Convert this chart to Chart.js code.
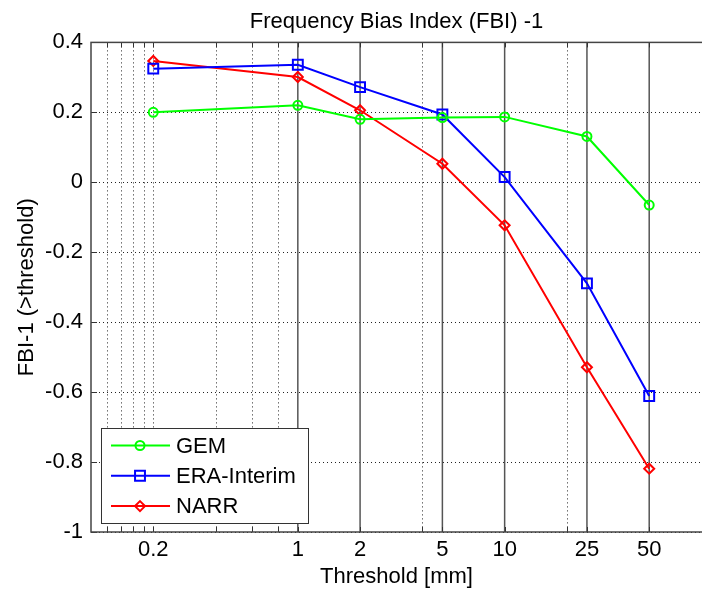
<!DOCTYPE html>
<html>
<head>
<meta charset="utf-8">
<script src="https://cdn.jsdelivr.net/npm/chart.js@4.4.1/dist/chart.umd.min.js"></script>
<style>
  html, body { margin: 0; padding: 0; background: #fff; overflow: hidden; }
</style>
</head>
<body>
<canvas id="fbiChart" width="702" height="592"></canvas>
<script>
const thresholds = [0.2, 1, 2, 5, 10, 25, 50];
const gemValues = [0.200, 0.220, 0.180, 0.185, 0.187, 0.131, -0.065];
const eraValues = [0.325, 0.336, 0.272, 0.194, 0.015, -0.289, -0.611];
const narrValues = [0.347, 0.301, 0.206, 0.053, -0.123, -0.529, -0.819];

const seriesNames = ["GEM", "ERA-Interim", "NARR"];
const xTickLabels = [0.2, 1, 2, 5, 10, 25, 50];
const xSolidLines = [1, 2, 5, 10, 25, 50];
const xDottedLines = [0.12, 0.14, 0.16, 0.18, 0.2, 0.4, 0.6, 0.8, 4, 20];
const yTickLabels = [0.4, 0.2, 0, -0.2, -0.4, -0.6, -0.8, -1];

const FONT = "'Liberation Sans', Arial, sans-serif";
const colors = ["#00ff00", "#0000ff", "#ff0000"];
const markers = ["circle", "rect", "rectRot"];
const markerSize = [4.5, 7, 5];

function toPoints(values) {
  return thresholds.map((t, i) => ({ x: t, y: values[i] }));
}

function seg(ctx, x1, y1, x2, y2) {
  ctx.beginPath();
  ctx.moveTo(x1, y1);
  ctx.lineTo(x2, y2);
  ctx.stroke();
}

// matlab style grid: dotted minor lines, solid lines at thresholds, inward ticks
const gridPlugin = {
  id: "matlabGrid",
  beforeDatasetsDraw(chart) {
    const { ctx, chartArea: a, scales: { x, y } } = chart;
    ctx.save();
    ctx.lineWidth = 1;
    ctx.strokeStyle = "#222";
    ctx.setLineDash([1, 3]);
    yTickLabels.forEach(v => {
      const py = Math.round(y.getPixelForValue(v)) + 0.5;
      seg(ctx, a.left, py, a.right, py);
    });
    xDottedLines.forEach(v => {
      const px = Math.round(x.getPixelForValue(v)) + 0.5;
      seg(ctx, px, a.top, px, a.bottom);
    });
    ctx.setLineDash([]);
    ctx.strokeStyle = "#555";
    ctx.lineWidth = 1.5;
    xSolidLines.forEach(v => {
      const px = x.getPixelForValue(v);
      seg(ctx, px, a.top, px, a.bottom);
    });

    // inward tick marks
    ctx.strokeStyle = "#333";
    ctx.lineWidth = 1;
    xDottedLines.concat(xSolidLines).forEach(v => {
      const px = Math.round(x.getPixelForValue(v)) + 0.5;
      seg(ctx, px, a.bottom, px, a.bottom - 5);
      seg(ctx, px, a.top, px, a.top + 5);
    });
    yTickLabels.forEach(v => {
      const py = Math.round(y.getPixelForValue(v)) + 0.5;
      seg(ctx, a.left, py, a.left + 6, py);
    });

    // axes box, right side lies just outside the picture
    ctx.strokeStyle = "#444";
    ctx.lineWidth = 1.5;
    ctx.strokeRect(a.left, a.top, a.right - a.left + 10, a.bottom - a.top);
    ctx.restore();
  }
};

function drawMarker(ctx, style, cx, cy, r) {
  ctx.beginPath();
  if (style === "circle") {
    ctx.arc(cx, cy, r, 0, Math.PI * 2);
  } else if (style === "rect") {
    const h = r * Math.SQRT1_2;
    ctx.rect(cx - h, cy - h, 2 * h, 2 * h);
  } else {
    ctx.moveTo(cx, cy - r);
    ctx.lineTo(cx + r, cy);
    ctx.lineTo(cx, cy + r);
    ctx.lineTo(cx - r, cy);
    ctx.closePath();
  }
  ctx.stroke();
}

// legend box in the lower left corner of the axes
const legendPlugin = {
  id: "boxLegend",
  afterDraw(chart) {
    const { ctx, chartArea: a } = chart;
    const left = a.left + 10, top = a.bottom - 104, w = 207, h = 95;
    ctx.save();
    ctx.fillStyle = "#fff";
    ctx.fillRect(left, top, w, h);
    ctx.strokeStyle = "#333";
    ctx.lineWidth = 1;
    ctx.strokeRect(left + 0.5, top + 0.5, w, h);
    ctx.font = "22px " + FONT;
    ctx.textBaseline = "middle";
    ctx.fillStyle = "#000";
    seriesNames.forEach((name, i) => {
      const ly = top + 17.5 + i * 30.3;
      ctx.strokeStyle = colors[i];
      ctx.lineWidth = 2;
      seg(ctx, left + 10, ly, left + 69, ly);
      drawMarker(ctx, markers[i], left + 39, ly, markerSize[i]);
      ctx.fillText(name, left + 75, ly + 1);
    });
    ctx.restore();
  }
};

const datasets = [gemValues, eraValues, narrValues].map((vals, i) => ({
  label: seriesNames[i],
  data: toPoints(vals),
  borderColor: colors[i],
  backgroundColor: "rgba(0,0,0,0)",
  borderWidth: 2,
  pointStyle: markers[i],
  pointRadius: markerSize[i],
  pointBorderWidth: 2,
  pointBorderColor: colors[i],
  pointBackgroundColor: "rgba(0,0,0,0)",
  tension: 0
}));

new Chart(document.getElementById("fbiChart"), {
  type: "line",
  data: { datasets: datasets },
  options: {
    responsive: false,
    animation: false,
    layout: { autoPadding: false, padding: 0 },
    plugins: {
      legend: { display: false },
      tooltip: { enabled: false },
      title: {
        display: true,
        fullSize: false,
        text: "Frequency Bias Index (FBI) -1",
        color: "#000",
        font: { family: FONT, size: 22, weight: "normal" },
        padding: { top: 9, bottom: 7 }
      }
    },
    scales: {
      x: {
        type: "logarithmic",
        min: 0.1,
        max: 90,
        afterBuildTicks: scale => {
          scale.ticks = xTickLabels.map(v => ({ value: v }));
        },
        afterFit: scale => {
          scale.height = 60;
          scale.paddingLeft = 0;
          scale.paddingRight = 0;
        },
        grid: { display: false, drawTicks: false },
        border: { display: false },
        ticks: {
          autoSkip: false,
          maxRotation: 0,
          padding: 5,
          color: "#000",
          font: { family: FONT, size: 22 },
          callback: v => String(v)
        },
        title: {
          display: true,
          text: "Threshold [mm]",
          color: "#000",
          font: { family: FONT, size: 22 },
          padding: { top: 0, bottom: 2 }
        }
      },
      y: {
        min: -1,
        max: 0.4,
        afterBuildTicks: scale => {
          scale.ticks = yTickLabels.map(v => ({ value: v }));
        },
        afterFit: scale => {
          scale.width = 91;
          scale.paddingTop = 0;
          scale.paddingBottom = 0;
        },
        grid: { display: false, drawTicks: false },
        border: { display: false },
        ticks: {
          padding: 8,
          color: "#000",
          font: { family: FONT, size: 22 },
          callback: v => String(v)
        },
        title: {
          display: true,
          text: "FBI-1 (>threshold)",
          color: "#000",
          font: { family: FONT, size: 22 },
          padding: { top: 14, bottom: 0 }
        }
      }
    }
  },
  plugins: [gridPlugin, legendPlugin]
});
</script>
</body>
</html>
